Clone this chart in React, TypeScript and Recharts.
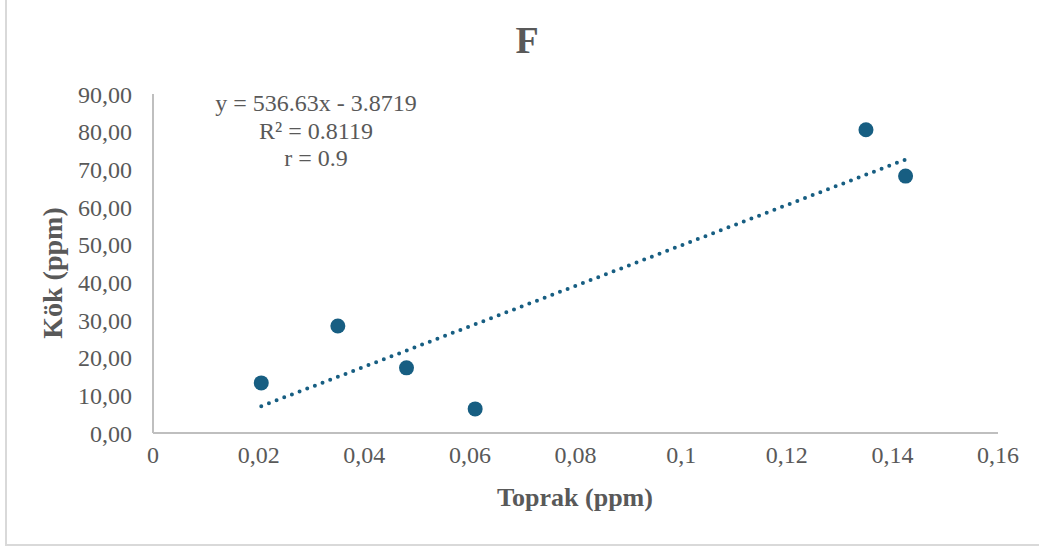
import React from "react";
import { ScatterChart, Scatter, XAxis, YAxis } from "recharts";

const toprak: number[] = [0.0205, 0.035, 0.048, 0.061, 0.135, 0.1425];
const kok: number[] = [13.3, 28.4, 17.3, 6.4, 80.5, 68.2];
const xTicks: number[] = [0, 0.02, 0.04, 0.06, 0.08, 0.1, 0.12, 0.14, 0.16];
const yTicks: number[] = [0, 10, 20, 30, 40, 50, 60, 70, 80, 90];
const slope = 536.63;
const intercept = -3.8719;
const eqLines: string[] = ["y = 536.63x - 3.8719", "R² = 0.8119", "r = 0.9"];
const title = "F";
const xTitle = "Toprak (ppm)";
const yTitle = "Kök (ppm)";

const points = toprak.map((x, i) => ({ x, y: kok[i] }));
const xMin = Math.min(...toprak);
const xMax = Math.max(...toprak);
const trend = [xMin, xMax].map((x) => ({ x, y: slope * x + intercept }));

const FONT = "'Liberation Serif', 'Times New Roman', serif";
const TXT = "#595959";
const PT = "#175E82";

const fmtX = (v: number) => String(v).replace(".", ",");
const fmtY = (v: number) => v.toFixed(2).replace(".", ",");

export default function App() {
  return (
    <div style={{ position: "fixed", left: 0, top: 0, width: 1039, height: 548, background: "#fff" }}>
      <div
        style={{
          position: "absolute",
          left: 5,
          top: 0,
          width: 1034,
          height: 546,
          boxSizing: "border-box",
          borderLeft: "2px solid #D9D9D9",
          borderBottom: "2px solid #D9D9D9",
        }}
      />
      <ScatterChart
        width={1039}
        height={548}
        margin={{ top: 94, right: 41, bottom: 85, left: 0 }}
        style={{ position: "absolute", left: 0, top: 0 }}
      >
        <XAxis
          type="number"
          dataKey="x"
          domain={[0, 0.16]}
          ticks={xTicks}
          tickFormatter={fmtX}
          tickLine={false}
          tickSize={0}
          tickMargin={13}
          height={30}
          axisLine={{ stroke: "#BFBFBF", strokeWidth: 2 }}
          tick={{ fill: TXT, fontSize: 24, fontFamily: FONT }}
          interval={0}
        />
        <YAxis
          type="number"
          dataKey="y"
          domain={[0, 90]}
          ticks={yTicks}
          tickFormatter={fmtY}
          tickLine={false}
          tickSize={0}
          tickMargin={21}
          width={153}
          axisLine={{ stroke: "#BFBFBF", strokeWidth: 2 }}
          tick={{ fill: TXT, fontSize: 24, fontFamily: FONT }}
          interval={0}
        />
        <Scatter
          data={trend}
          isAnimationActive={false}
          line={{ stroke: PT, strokeWidth: 4, strokeDasharray: "0 8.2", strokeLinecap: "round" }}
          shape={() => <g />}
        />
        <Scatter
          data={points}
          isAnimationActive={false}
          fill={PT}
          shape={(p: any) => <circle cx={p.cx} cy={p.cy} r={7.5} fill={PT} />}
        />
      </ScatterChart>
      <svg width={1039} height={548} style={{ position: "absolute", left: 0, top: 0, pointerEvents: "none" }}>
        <text x={527} y={53} textAnchor="middle" fontFamily={FONT} fontWeight="bold" fontSize={38} fill={TXT}>
          {title}
        </text>
        {eqLines.map((l, i) => (
          <text key={i} x={316} y={111 + i * 27.5} textAnchor="middle" fontFamily={FONT} fontSize={24} fill={TXT}>
            {l}
          </text>
        ))}
        <text x={575} y={506} textAnchor="middle" fontFamily={FONT} fontWeight="bold" fontSize={26} fill={TXT}>
          {xTitle}
        </text>
        <text
          x={0}
          y={0}
          transform="translate(62,273) rotate(-90)"
          textAnchor="middle"
          fontFamily={FONT}
          fontWeight="bold"
          fontSize={28}
          fill={TXT}
        >
          {yTitle}
        </text>
      </svg>
    </div>
  );
}
